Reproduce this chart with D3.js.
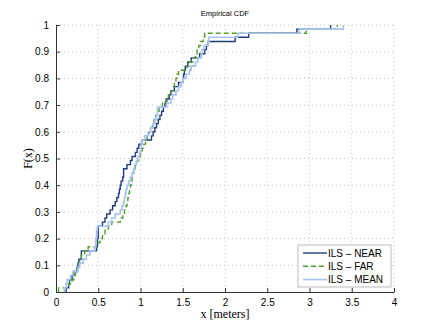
<!DOCTYPE html>
<html>
<head>
<meta charset="utf-8">
<script src="https://cdn.jsdelivr.net/npm/d3@7"></script>
<style>
  body { margin: 0; background: #fff; }
  svg { display: block; }
</style>
</head>
<body>
<div id="chart"></div>
<script>
// sorted samples (meters) per series
const nearSamples = [0.12,0.15,0.16,0.19,0.21,0.25,0.26,0.27,0.30,0.30,
  0.48,0.49,0.49,0.50,0.50,0.50,0.55,0.58,0.60,0.64,
  0.67,0.70,0.72,0.74,0.75,0.76,0.77,0.79,0.80,0.80,
  0.84,0.88,0.90,0.94,0.96,0.98,1.02,1.13,1.15,1.17,
  1.19,1.21,1.23,1.25,1.27,1.29,1.31,1.34,1.36,1.40,
  1.45,1.50,1.51,1.52,1.53,1.56,1.60,1.70,1.76,1.78,
  1.80,2.12,2.28,2.85,3.25];
const farSamples = [0.03,0.15,0.19,0.21,0.23,0.25,0.27,0.28,0.30,0.34,
  0.38,0.48,0.52,0.55,0.58,0.62,0.66,0.76,0.79,0.81,
  0.83,0.84,0.85,0.86,0.87,0.88,0.89,0.90,0.91,0.92,
  0.94,0.96,0.98,1.00,1.02,1.04,1.06,1.08,1.10,1.12,
  1.14,1.16,1.18,1.20,1.22,1.26,1.30,1.33,1.36,1.39,
  1.40,1.42,1.43,1.45,1.55,1.58,1.62,1.65,1.67,1.69,
  1.71,1.74,1.76,2.96,3.33];
const meanSamples = [0.10,0.12,0.13,0.17,0.20,0.26,0.28,0.32,0.36,0.40,
  0.46,0.47,0.47,0.48,0.48,0.49,0.62,0.66,0.70,0.76,
  0.78,0.80,0.81,0.82,0.83,0.84,0.86,0.88,0.90,0.92,
  0.93,0.95,0.97,0.99,1.00,1.01,1.02,1.05,1.09,1.12,
  1.15,1.17,1.19,1.20,1.20,1.31,1.36,1.38,1.42,1.45,
  1.48,1.50,1.54,1.58,1.60,1.65,1.68,1.72,1.73,1.75,
  1.80,1.81,2.15,2.88,3.40];

const seriesNames = ["ILS \u2013 NEAR", "ILS \u2013 FAR", "ILS \u2013 MEAN"];
const xTicks = [0, 0.5, 1, 1.5, 2, 2.5, 3, 3.5, 4];
const yTicks = [0, 0.1, 0.2, 0.3, 0.4, 0.5, 0.6, 0.7, 0.8, 0.9, 1];

const W = 436, H = 328;
const margin = {left: 56, right: 42, top: 25, bottom: 36};
const innerW = W - margin.left - margin.right;
const innerH = H - margin.top - margin.bottom;

const series = [
  {name: seriesNames[0], samples: nearSamples, color: "#1f3c7e", dash: null, width: 1.4},
  {name: seriesNames[1], samples: farSamples, color: "#4e9e2c", dash: "5,3", width: 1.4},
  {name: seriesNames[2], samples: meanSamples, color: "#a7c3f2", dash: null, width: 1.6}
];

const svg = d3.select("#chart").append("svg")
  .attr("width", W).attr("height", H);

const x = d3.scaleLinear().domain([0, 4]).range([0, innerW]);
const y = d3.scaleLinear().domain([0, 1]).range([innerH, 0]);

const g = svg.append("g").attr("transform", `translate(${margin.left},${margin.top})`);

// dotted grid
g.append("g").selectAll("line").data(xTicks.slice(1)).enter().append("line")
  .attr("x1", d => x(d)).attr("x2", d => x(d))
  .attr("y1", 0).attr("y2", innerH)
  .attr("stroke", "#b8b8b8").attr("stroke-width", 0.8).attr("stroke-dasharray", "1,3");
g.append("g").selectAll("line").data(yTicks.slice(1)).enter().append("line")
  .attr("x1", 0).attr("x2", innerW)
  .attr("y1", d => y(d)).attr("y2", d => y(d))
  .attr("stroke", "#b8b8b8").attr("stroke-width", 0.8).attr("stroke-dasharray", "1,3");

// axes, ticks pointing inward like matlab
const xAxis = d3.axisBottom(x).tickValues(xTicks).tickSizeInner(-4).tickSizeOuter(0).tickPadding(7)
  .tickFormat(d3.format("~g"));
const yAxis = d3.axisLeft(y).tickValues(yTicks).tickSizeInner(-4).tickSizeOuter(0).tickPadding(7)
  .tickFormat(d3.format("~g"));

const gx = g.append("g").attr("transform", `translate(0,${innerH})`).call(xAxis);
const gy = g.append("g").call(yAxis);
[gx, gy].forEach(a => {
  a.select(".domain").attr("stroke", "#333");
  a.selectAll(".tick line").attr("stroke", "#333");
  a.selectAll("text").attr("font-family", "Liberation Sans, Arial, sans-serif")
    .attr("font-size", 10).attr("fill", "#000");
});

// ecdf stairs
const stairs = d3.line().x(d => x(d[0])).y(d => y(d[1])).curve(d3.curveStepAfter);
series.forEach(s => {
  const n = s.samples.length;
  const pts = [[s.samples[0], 0]].concat(s.samples.map((v, i) => [v, (i + 1) / n]));
  g.append("path").datum(pts)
    .attr("d", stairs)
    .attr("fill", "none")
    .attr("stroke", s.color)
    .attr("stroke-width", s.width)
    .attr("stroke-dasharray", s.dash);
});

// title and labels
svg.append("text").attr("x", margin.left + innerW / 2).attr("y", 16)
  .attr("text-anchor", "middle").attr("fill", "#000")
  .attr("font-family", "Liberation Sans, Arial, sans-serif").attr("font-size", 7.5)
  .text("Empirical CDF");
svg.append("text").attr("x", margin.left + innerW / 2).attr("y", 318)
  .attr("text-anchor", "middle")
  .attr("font-family", "Liberation Serif, Times New Roman, serif").attr("font-size", 12)
  .text("x [meters]");
svg.append("text")
  .attr("transform", `translate(32,${margin.top + innerH / 2}) rotate(-90)`)
  .attr("text-anchor", "middle")
  .attr("font-family", "Liberation Serif, Times New Roman, serif").attr("font-size", 12)
  .text("F(x)");

// legend
const lg = svg.append("g").attr("transform", "translate(298,245)");
lg.append("rect").attr("width", 93).attr("height", 42)
  .attr("fill", "#fff").attr("stroke", "#aaa").attr("stroke-width", 0.8);
series.forEach((s, i) => {
  const yy = 8 + i * 13.3;
  lg.append("line").attr("x1", 5).attr("x2", 29).attr("y1", yy).attr("y2", yy)
    .attr("stroke", s.color).attr("stroke-width", s.width).attr("stroke-dasharray", s.dash);
  lg.append("text").attr("x", 30).attr("y", yy + 3.5)
    .attr("font-family", "Liberation Sans, Arial, sans-serif").attr("font-size", 10)
    .text(s.name);
});
</script>
</body>
</html>
